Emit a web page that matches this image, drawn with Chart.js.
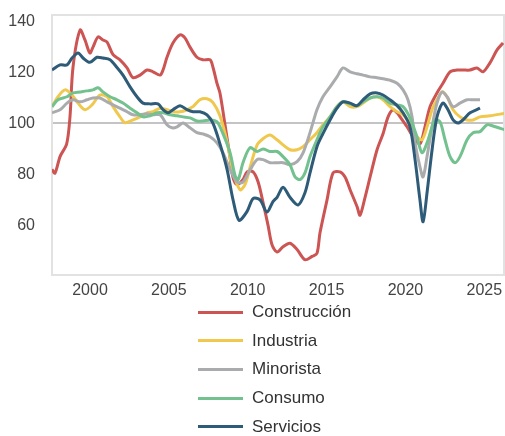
<!DOCTYPE html>
<html>
<head>
<meta charset="utf-8">
<script src="https://cdn.jsdelivr.net/npm/chart.js@4/dist/chart.umd.min.js"></script>
<style>
  html, body { margin:0; padding:0; background:#fff; width:505px; height:436px; overflow:hidden; }
  #wrap { position:absolute; left:0; top:0; width:505px; height:300px; }
  #legend { position:absolute; left:0; top:0; width:505px; height:436px; pointer-events:none;
            font-family:"Liberation Sans", Arial, sans-serif; font-size:17px; color:#333; }
  .item { position:absolute; left:198px; height:20px; display:flex; align-items:center; }
  .swatch { width:45px; height:3px; margin-right:9px; }
</style>
</head>
<body>
<div id="wrap"><canvas id="c"></canvas></div>
<div id="legend"></div>
<script>
const seriesNames = ["Construcción", "Industria", "Minorista", "Consumo", "Servicios"];
const seriesColors = ["#cc5453", "#f0c84e", "#a9abad", "#73c18e", "#2d5b78"];
const yTickValues = [60, 80, 100, 120, 140];
const xTickValues = [2000, 2005, 2010, 2015, 2020, 2025];

const construccionYears = [1997.59,1997.78,1998.10,1998.52,1998.73,1998.92,1999.37,1999.68,1999.99,2000.19,2000.51,2000.82,2001.08,2001.46,2001.90,2002.35,2002.73,2003.17,2003.61,2003.99,2004.44,2004.63,2004.88,2005.26,2005.71,2006.02,2006.34,2006.78,2007.16,2007.61,2007.80,2008.05,2008.24,2008.56,2008.88,2009.07,2009.32,2009.70,2009.96,2010.34,2010.66,2010.97,2011.29,2011.54,2011.86,2012.24,2012.68,2013.13,2013.63,2014.08,2014.39,2014.58,2015.03,2015.41,2015.85,2016.17,2016.49,2016.93,2017.12,2017.44,2017.76,2018.20,2018.58,2018.90,2019.21,2019.47,2019.66,2020.10,2020.48,2020.92,2021.24,2021.56,2022.00,2022.38,2022.83,2023.27,2023.65,2024.10,2024.54,2024.92,2025.36,2025.81,2026.19];
const construccionValues = [82,80.5,87,92,102.6,122,136.7,132.8,127.7,130,134,132.8,132,127,125,121.8,118,119,121,120.3,119,121,126,131.6,134.8,133.6,130,126,125,125,122,115.8,112,99.5,86.6,78.7,76,78,81,81,77,69,60,52.4,49.5,51.6,53,50.5,46.5,47.8,49,57,70,80.6,81,79,74,67.4,64,71,79,89.7,96,102.6,105.4,104.2,102.6,98.7,94.8,92,98.7,106.6,112,115.8,120.3,121,121,121,121.8,120.3,123.8,128.9,131.6];

const industriaYears = [1997.59,1997.97,1998.41,1998.86,1999.24,1999.68,2000.13,2000.63,2001.08,2001.46,2001.90,2002.22,2002.73,2003.17,2003.61,2003.99,2004.44,2004.88,2005.26,2005.71,2006.15,2006.53,2006.97,2007.42,2007.80,2008.24,2008.69,2009.07,2009.51,2009.83,2010.15,2010.59,2010.97,2011.41,2011.86,2012.24,2012.68,2013.13,2013.51,2013.95,2014.39,2014.77,2015.22,2015.66,2016.04,2016.49,2016.93,2017.31,2017.76,2018.20,2018.58,2019.02,2019.47,2019.85,2020.29,2020.73,2021.05,2021.37,2021.69,2022.00,2022.32,2022.64,2023.02,2023.46,2023.91,2024.29,2024.73,2025.36,2026.31];
const industriaValues = [106.6,110.5,113.2,111.2,108,105.4,107.3,111.2,110.5,106.6,102.6,100.3,101.4,102.6,104.2,104.6,106,105.4,104.6,104.6,105.4,106.6,109.3,109.7,108.2,103,92.8,81,74,76,82.8,91.5,94,95.5,93.6,91.6,89.7,89.7,90.9,93.6,96.4,99.5,102.6,106.6,108.5,106.6,106.6,108,110,110.5,109.3,106.6,104.6,103.4,100.2,94.8,93.6,98.7,105.4,109.3,112.4,110.5,105.4,102.6,101.4,101.4,102.6,103,104];

const minoristaYears = [1997.59,1998.10,1998.54,1998.92,1999.37,1999.81,2000.19,2000.63,2001.08,2001.46,2001.90,2002.35,2002.73,2003.17,2003.61,2003.99,2004.44,2004.88,2005.20,2005.52,2005.90,2006.34,2006.78,2007.16,2007.61,2008.05,2008.43,2008.88,2009.32,2009.70,2010.15,2010.59,2010.97,2011.41,2011.86,2012.24,2012.68,2013.13,2013.51,2013.95,2014.39,2014.77,2015.22,2015.66,2016.04,2016.49,2016.93,2017.31,2017.76,2018.20,2018.58,2019.02,2019.47,2019.85,2020.16,2020.42,2020.61,2020.92,2021.12,2021.37,2021.69,2022.00,2022.32,2022.64,2023.02,2023.46,2023.91,2024.29,2024.73];
const minoristaValues = [104.2,105.4,108,109.3,108.5,109.3,110,110,108.5,107.3,106,104.6,103.4,103.4,103.8,103.4,103.4,99.5,98.3,98.7,100.2,98.3,96.4,95.9,94.8,92.4,88.5,82,77,77,81.8,85.8,85.8,84.6,84.6,84.6,83.8,85,88.5,96.4,105.4,110.5,114.4,118.3,121.8,120.3,119.5,119,118.3,118,117.6,117,115.8,113.2,109.3,102.6,92.4,83,79,87,98.7,108,112.4,110.5,106.6,108,109.3,109.3,109.3];

const consumoYears = [1997.59,1997.97,1998.54,1998.92,1999.37,1999.81,2000.19,2000.51,2000.82,2001.27,2001.71,2002.09,2002.54,2002.98,2003.36,2003.80,2004.25,2004.63,2005.07,2005.52,2005.90,2006.34,2006.78,2007.16,2007.61,2008.05,2008.43,2008.88,2009.20,2009.40,2009.70,2010.15,2010.59,2010.97,2011.41,2011.86,2012.24,2012.68,2013.00,2013.32,2013.63,2013.95,2014.39,2014.77,2015.22,2015.66,2016.04,2016.49,2016.93,2017.31,2017.76,2018.20,2018.58,2019.02,2019.47,2019.85,2020.29,2020.73,2021.05,2021.37,2021.69,2021.88,2022.19,2022.51,2022.83,2023.15,2023.46,2023.91,2024.29,2024.73,2025.17,2025.55,2026.31];
const consumoValues = [106.6,109.3,110.5,112,112.4,112.8,113.2,114,112.4,110.5,109.3,108,106,104.2,102.6,103,104.2,104.2,103.4,103,102.6,102.2,101,101,101.4,100.7,96,88.5,79.5,78,84.6,90.5,89,90,89,89,87,83.8,79,78,80.6,87,93.6,98.7,102.6,106.6,108.5,107.7,107,108.5,110,110.5,110,108,107.3,106.6,102.2,94.8,88.5,92.4,98.7,101.4,100.7,93.6,87,84.6,87,93.6,96.4,96.8,99.5,99,97.5];

const serviciosYears = [1997.59,1998.10,1998.54,1998.86,1999.24,1999.56,1999.99,2000.44,2000.82,2001.27,2001.71,2002.09,2002.54,2002.98,2003.36,2003.80,2004.31,2004.63,2004.95,2005.26,2005.71,2006.15,2006.53,2006.97,2007.42,2007.80,2008.24,2008.69,2009.07,2009.45,2009.96,2010.34,2010.78,2011.22,2011.60,2011.86,2012.24,2012.68,2013.19,2013.63,2013.95,2014.39,2014.77,2015.22,2015.66,2016.04,2016.49,2016.93,2017.31,2017.76,2018.20,2018.58,2019.02,2019.47,2019.85,2020.29,2020.61,2020.92,2021.12,2021.37,2021.69,2022.00,2022.38,2022.70,2023.02,2023.34,2023.65,2024.10,2024.73];
const serviciosValues = [121,123,123,125.7,127.7,125.7,124,126,125.7,125,122,119,114.4,110.5,108,107.7,107.7,105.4,104.2,105.4,107,105.4,104.6,104.6,103.4,100,92,82,70,62,65.5,70.5,70,65.2,69.3,71,75,71,68,72.8,80.6,90.9,96,101.4,106,108.5,108,107,109.3,111.6,112,111.2,109.3,107,104.2,98.7,85.8,70,61.4,72.8,89.7,102.6,108,105.4,101.4,100.2,101.4,104.2,106];

const allYears = [construccionYears, industriaYears, minoristaYears, consumoYears, serviciosYears];
const allValues = [construccionValues, industriaValues, minoristaValues, consumoValues, serviciosValues];

const datasets = seriesNames.map((name, i) => ({
  label: name,
  data: allYears[i].map((x, k) => ({ x: x, y: allValues[i][k] })),
  borderColor: seriesColors[i],
  backgroundColor: seriesColors[i],
  borderWidth: 3,
  pointRadius: 0,
  tension: 0.3,
  fill: false,
  order: seriesNames.length - i
}));

const frame = {
  id: 'frame',
  beforeDatasetsDraw(chart) {
    const a = chart.chartArea, ctx = chart.ctx;
    ctx.save();
    ctx.strokeStyle = '#e2e2e2';
    ctx.lineWidth = 2;
    ctx.strokeRect(a.left, a.top, a.right - a.left, a.bottom - a.top);
    ctx.restore();
  }
};

const noOverhang = axis => { axis.paddingTop = 0; axis.paddingBottom = 0; axis.paddingLeft = 0; axis.paddingRight = 0; };
const tickFont = { family: '"Liberation Sans", Arial, sans-serif', size: 16 };

new Chart(document.getElementById('c'), {
  type: 'line',
  data: { datasets: datasets },
  plugins: [frame],
  options: {
    responsive: true,
    maintainAspectRatio: false,
    animation: false,
    layout: { padding: { top: 15, right: 1, left: 0, bottom: 0 } },
    plugins: { legend: { display: false }, tooltip: { enabled: false } },
    scales: {
      x: {
        type: 'linear',
        min: 1997.59,
        max: 2026.25,
        afterBuildTicks: axis => { axis.ticks = xTickValues.map(v => ({ value: v })); },
        afterFit: axis => { axis.height = 25; noOverhang(axis); },
        grid: { display: false, drawTicks: false },
        border: { display: false },
        ticks: { padding: 6, color: '#444', font: tickFont, maxRotation: 0, autoSkip: false, callback: v => String(v) }
      },
      y: {
        min: 40.5,
        max: 142.6,
        afterBuildTicks: axis => { axis.ticks = yTickValues.map(v => ({ value: v })); },
        afterFit: axis => { axis.width = 52; noOverhang(axis); },
        grid: {
          drawTicks: false,
          color: ctx => (ctx.tick && ctx.tick.value === 100) ? '#c4c4c4' : 'rgba(0,0,0,0)',
          lineWidth: 2
        },
        border: { display: false },
        ticks: { padding: 17, color: '#444', font: tickFont }
      }
    }
  }
});

const legend = document.getElementById('legend');
seriesNames.forEach((name, i) => {
  const row = document.createElement('div');
  row.className = 'item';
  row.style.top = (302 + i * 28.7) + 'px';
  const sw = document.createElement('div');
  sw.className = 'swatch';
  sw.style.background = seriesColors[i];
  const tx = document.createElement('span');
  tx.textContent = name;
  row.appendChild(sw);
  row.appendChild(tx);
  legend.appendChild(row);
});
</script>
</body>
</html>
